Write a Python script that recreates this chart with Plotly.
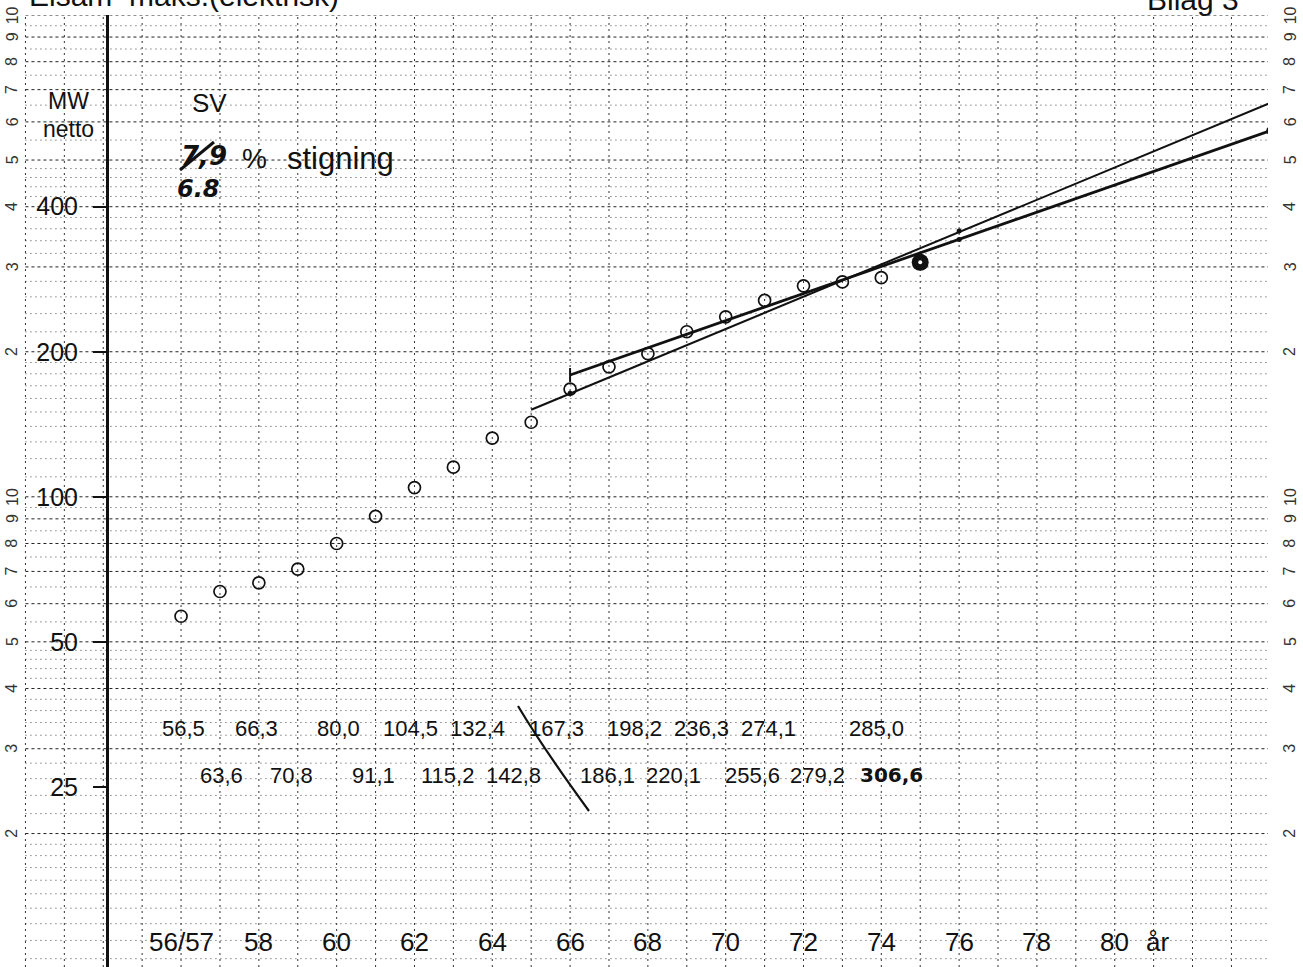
import math
import plotly.graph_objects as go

# Elsam peak load (MW netto), operating years 56/57 .. 75/76
years = list(range(56, 76))
mw_netto = [56.5, 63.6, 66.3, 70.8, 80.0, 91.1, 104.5, 115.2, 132.4, 142.8,
            167.3, 186.1, 198.2, 220.1, 236.3, 255.6, 274.1, 279.2, 285.0, 306.6]

# Growth lines drawn through the later years (7.9 % and 6.8 % per year)
trend_79_years = [65, 84]
trend_79_mw = [151.6, 657.0]
trend_68_years = [66, 84]
trend_68_mw = [179.0, 575.0]

# Pencil dots marked along the growth lines
dots_79_years = [66, 76, 84]
dots_79_mw = [164.0, 356.0, 639.0]
dots_68_years = [76]
dots_68_mw = [342.0]

ytick_vals = [25, 50, 100, 200, 400]
xtick_years = [56, 58, 60, 62, 64, 66, 68, 70, 72, 74, 76, 78, 80]
xtick_text = ["56/57", "58", "60", "62", "64", "66", "68", "70", "72", "74", "76", "78", "80"]

# Where the two rows of typed values sit along the year axis
row_top_x = [56.05, 57.95, 60.04, 61.89, 63.63, 65.64, 67.65, 69.37, 71.09, 73.87]
row_bottom_x = [57.03, 58.85, 60.94, 62.85, 64.55, 66.95, 68.65, 70.70, 72.35, 74.25]

W, H = 1303, 967
ML, MR, MT, MB = 20, 35, 15, 0
PW, PH = W - ML - MR, H - MT - MB
X0, X1 = 51.86, 83.94
Y_LO, Y_HI = 10.57, 1000.0

FONT = "Liberation Sans, Arial, sans-serif"
HAND = "DejaVu Sans, sans-serif"
INK = "#111111"


def px_x(px):
    return (px - ML) / PW


def px_y(py):
    return 1 - (py - MT) / PH


# semi-log paper: per decade 1-2 step .1, 2-5 step .2, 5-10 step .5
minor_vals, major_vals = [], []
for dec in (10, 100):
    steps = [1 + 0.1 * k for k in range(10)] + [2 + 0.2 * k for k in range(15)] + \
            [5 + 0.5 * k for k in range(10)]
    for s in steps:
        v = round(s * dec, 6)
        if abs(s - round(s)) < 1e-9:
            major_vals.append(v)
        else:
            minor_vals.append(v)
major_vals.append(1000.0)


def hlines(vals):
    xs, ys = [], []
    for v in vals:
        if v < Y_LO:
            continue
        xs += [52, 84, None]
        ys += [v, v, None]
    return xs, ys


fig = go.Figure()

mx, my = hlines(minor_vals)
fig.add_trace(go.Scatter(x=mx, y=my, mode="lines", hoverinfo="skip",
                         line=dict(color="#444444", width=1, dash="1px,4px")))
Mx, My = hlines(major_vals)
fig.add_trace(go.Scatter(x=Mx, y=My, mode="lines", hoverinfo="skip",
                         line=dict(color="#222222", width=1, dash="3px,3px")))

vx, vy = [], []
for yr in range(52, 84):
    vx += [yr, yr, None]
    vy += [Y_LO, 1000, None]
fig.add_trace(go.Scatter(x=vx, y=vy, mode="lines", hoverinfo="skip",
                         line=dict(color="#333333", width=1, dash="2px,4px")))
# right edge of the sheet
fig.add_trace(go.Scatter(x=[84, 84], y=[Y_LO, 1000], mode="lines", hoverinfo="skip",
                         line=dict(color="#222222", width=1.6, dash="4px,1px")))

# growth lines
fig.add_trace(go.Scatter(x=trend_79_years, y=trend_79_mw, mode="lines",
                         line=dict(color=INK, width=2)))
fig.add_trace(go.Scatter(x=trend_68_years, y=trend_68_mw, mode="lines",
                         line=dict(color=INK, width=2.8)))
fig.add_trace(go.Scatter(x=dots_79_years, y=dots_79_mw, mode="markers",
                         marker=dict(color=INK, size=5)))
fig.add_trace(go.Scatter(x=dots_68_years, y=dots_68_mw, mode="markers",
                         marker=dict(color=INK, size=5)))
fig.add_trace(go.Scatter(x=[trend_68_years[-1]], y=[trend_68_mw[-1]], mode="markers",
                         marker=dict(color=INK, size=8)))
fig.add_trace(go.Scatter(x=[trend_68_years[0]], y=[trend_68_mw[0]], mode="markers",
                         marker=dict(color=INK, symbol="line-ns", size=10,
                                     line=dict(color=INK, width=2))))

# observed peaks
fig.add_trace(go.Scatter(x=years, y=mw_netto, mode="markers",
                         marker=dict(symbol="circle-open", size=12, color=INK,
                                     line=dict(color=INK, width=1.7))))
# latest year marked heavily
fig.add_trace(go.Scatter(x=[years[-1]], y=[mw_netto[-1]], mode="markers",
                         marker=dict(symbol="circle", size=17, color=INK)))
fig.add_trace(go.Scatter(x=[years[-1]], y=[mw_netto[-1]], mode="markers",
                         marker=dict(symbol="circle", size=4, color="white")))

ann = []


def txt(text, px, py, size=22, xanchor="center", yanchor="middle", family=FONT,
        angle=0, color=INK, xref="paper", x=None):
    ann.append(dict(text=text, x=px_x(px) if x is None else x, y=px_y(py),
                    xref=xref, yref="paper", xanchor=xanchor, yanchor=yanchor,
                    showarrow=False, textangle=angle, borderpad=0,
                    font=dict(family=family, size=size, color=color)))


txt("Elsam  maks.(elektrisk)", 28, 13, size=30, xanchor="left", yanchor="bottom")
txt("Bilag 3", 1146, 17, size=30, xanchor="left", yanchor="bottom")

txt("MW", 68, 101, size=23)
txt("netto", 68, 129, size=23)
txt("SV", 210, 103, size=26)
txt("%", 254, 158, size=28)
txt("stigning", 286, 158, size=31, xanchor="left")
txt("<b><i>7,9</i></b>", 204, 156, size=26, family=HAND)
txt("<b><i>6.8</i></b>", 198, 189, size=24, family=HAND)

# sheet cycle numbers printed in both margins
for dec in (10, 100):
    for k in range(2, 11):
        yy = 497 - 481.7 * math.log10(k * dec / 100)
        for xx in (12, 1290):
            txt(str(k), xx, yy, size=16, angle=-90, color="#333333")

# year labels along the bottom
for yr, lab in zip(xtick_years, xtick_text):
    txt(lab, 0, 942, size=26, xref="x", x=yr)
txt("år", 0, 942, size=26, xref="x", x=81.1)

# typed values, alternate years in two rows
for xv, v in zip(row_top_x, mw_netto[0::2]):
    txt(f"{v:.1f}".replace(".", ","), 0, 728, xref="x", x=xv)
for i, (xv, v) in enumerate(zip(row_bottom_x, mw_netto[1::2])):
    lab = f"{v:.1f}".replace(".", ",")
    if i == len(row_bottom_x) - 1:
        txt(f"<b>{lab}</b>", 0, 775, size=20, family=HAND, xref="x", x=xv)
    else:
        txt(lab, 0, 775, xref="x", x=xv)

shapes = [
    # pencil stroke separating the earlier years
    dict(type="path", xref="paper", yref="paper",
         path=f"M {px_x(518)} {px_y(706)} Q {px_x(543)} {px_y(748)} {px_x(589)} {px_y(811)}",
         line=dict(color=INK, width=2.2)),
    # 7,9 struck out
    dict(type="line", xref="paper", yref="paper",
         x0=px_x(180), y0=px_y(170), x1=px_x(214), y1=px_y(142),
         line=dict(color=INK, width=3)),
]

fig.update_layout(
    width=W, height=H,
    margin=dict(l=ML, r=MR, t=MT, b=MB),
    paper_bgcolor="white", plot_bgcolor="white",
    showlegend=False,
    annotations=ann, shapes=shapes,
    xaxis=dict(range=[X0, X1], showgrid=False, zeroline=False, showline=False,
               showticklabels=False, ticks=""),
    yaxis=dict(type="log", range=[math.log10(Y_LO), math.log10(Y_HI)],
               anchor="free", position=px_x(107),
               showline=True, linecolor=INK, linewidth=3,
               ticks="outside", ticklen=13, tickwidth=2, tickcolor=INK,
               tickvals=ytick_vals, ticktext=[str(v) for v in ytick_vals],
               ticklabelstandoff=10,
               tickfont=dict(family=FONT, size=25, color=INK),
               showgrid=False, zeroline=False),
)

fig.write_html("out.html")
